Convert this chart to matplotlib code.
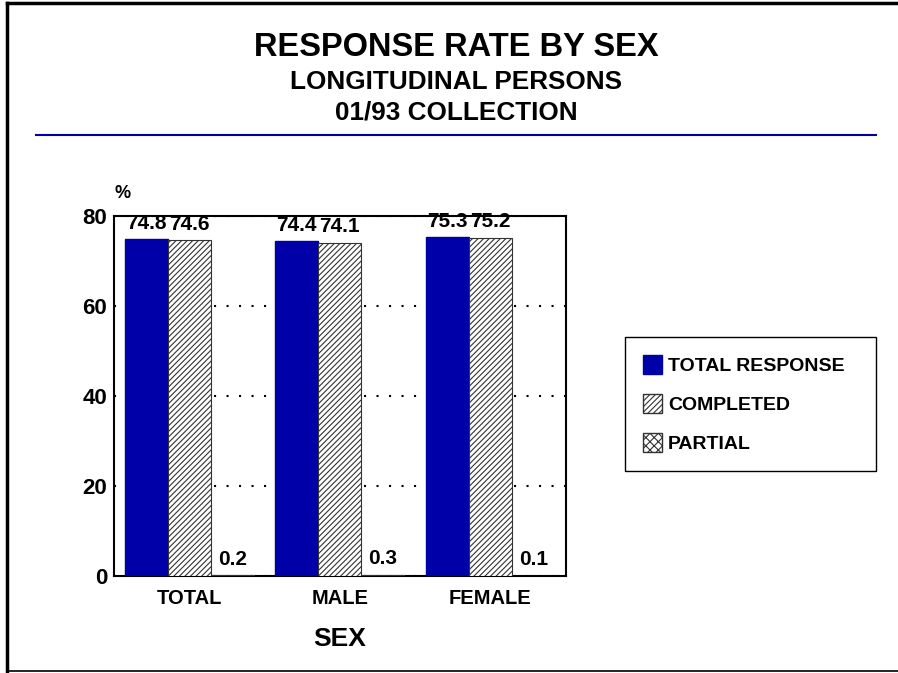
import matplotlib
matplotlib.use("Agg")
import matplotlib.pyplot as plt
from matplotlib.lines import Line2D
from matplotlib.patches import Patch
import numpy as np

plt.rcParams['font.family'] = ['Liberation Sans', 'DejaVu Sans']
plt.rcParams['hatch.linewidth'] = 0.8

categories = ["TOTAL", "MALE", "FEMALE"]
total_response = [74.8, 74.4, 75.3]
completed = [74.6, 74.1, 75.2]
partial = [0.2, 0.3, 0.1]
series_names = ["TOTAL RESPONSE", "COMPLETED", "PARTIAL"]
yticks = [0, 20, 40, 60, 80]

blue = "#0000a8"

fig = plt.figure(figsize=(8.98, 6.73), dpi=100)
ax = fig.add_axes([0.127, 0.1441, 0.503, 0.535])

x = np.arange(len(categories))
w = 0.286
b1 = ax.bar(x - w, total_response, w, color=blue, edgecolor=blue, zorder=3)
b2 = ax.bar(x, completed, w, color="white", edgecolor="#333333", hatch="//////", lw=0.8, zorder=3)
b3 = ax.bar(x + w, partial, w, color="white", edgecolor="#333333", hatch="xxxx", lw=0.8, zorder=3)

for bars, vals in [(b1, total_response), (b2, completed), (b3, partial)]:
    for r, v in zip(bars, vals):
        ax.text(r.get_x() + r.get_width() / 2, v + 1.4, f"{v:.1f}", ha="center", va="bottom",
                fontsize=15, fontweight="bold")

ax.set_xlim(-0.5, 2.5)
ax.set_ylim(0, 80)
ax.set_yticks(yticks)
ax.set_yticklabels([str(t) for t in yticks], fontsize=16, fontweight="bold")
ax.set_xticks(x)
ax.set_xticklabels(categories, fontsize=14.5, fontweight="bold")
ax.tick_params(axis="x", length=0, pad=9)
ax.tick_params(axis="y", length=0, pad=5)
ax.yaxis.grid(True, linestyle=(0, (1, 5)), color="black", lw=1.5, zorder=0)
for s in ax.spines.values():
    s.set_linewidth(1.5)
ax.set_xlabel("SEX", fontsize=19, fontweight="bold", labelpad=14)
ax.text(0.0, 1.04, "%", transform=ax.transAxes, fontsize=13, fontweight="bold", ha="left", va="bottom")

fig.text(0.508, 0.929, "RESPONSE RATE BY SEX", ha="center", va="center", fontsize=23.5, fontweight="bold")
fig.text(0.508, 0.878, "LONGITUDINAL PERSONS", ha="center", va="center", fontsize=18.8, fontweight="bold")
fig.text(0.508, 0.833, "01/93 COLLECTION", ha="center", va="center", fontsize=18.8, fontweight="bold")

fig.add_artist(Line2D([36 / 898, 876 / 898], [1 - 135 / 673] * 2, color=blue, lw=1.5))
fig.add_artist(Line2D([7 / 898, 7 / 898], [0.002, 0.996], color="black", lw=2.5))
fig.add_artist(Line2D([7 / 898, 1.0], [0.996, 0.996], color="black", lw=2.5))
fig.add_artist(Line2D([7 / 898, 1.0], [0.003, 0.003], color="black", lw=1.2))

handles = [Patch(facecolor=blue, edgecolor=blue),
           Patch(facecolor="white", edgecolor="#333333", hatch="//////"),
           Patch(facecolor="white", edgecolor="#333333", hatch="xxxx")]
leg = fig.legend(handles, series_names, loc="upper left",
                 bbox_to_anchor=(625 / 898, 1 - 337 / 673, 251 / 898, 0.0), mode="expand",
                 fancybox=False, edgecolor="black", framealpha=1, handlelength=1.0, handleheight=1.2,
                 handletextpad=0.3, labelspacing=0.95, borderpad=0.9, borderaxespad=0,
                 prop={"size": 14, "weight": "bold"})
leg.get_frame().set_linewidth(1.0)

fig.savefig("out.png", dpi=100)
